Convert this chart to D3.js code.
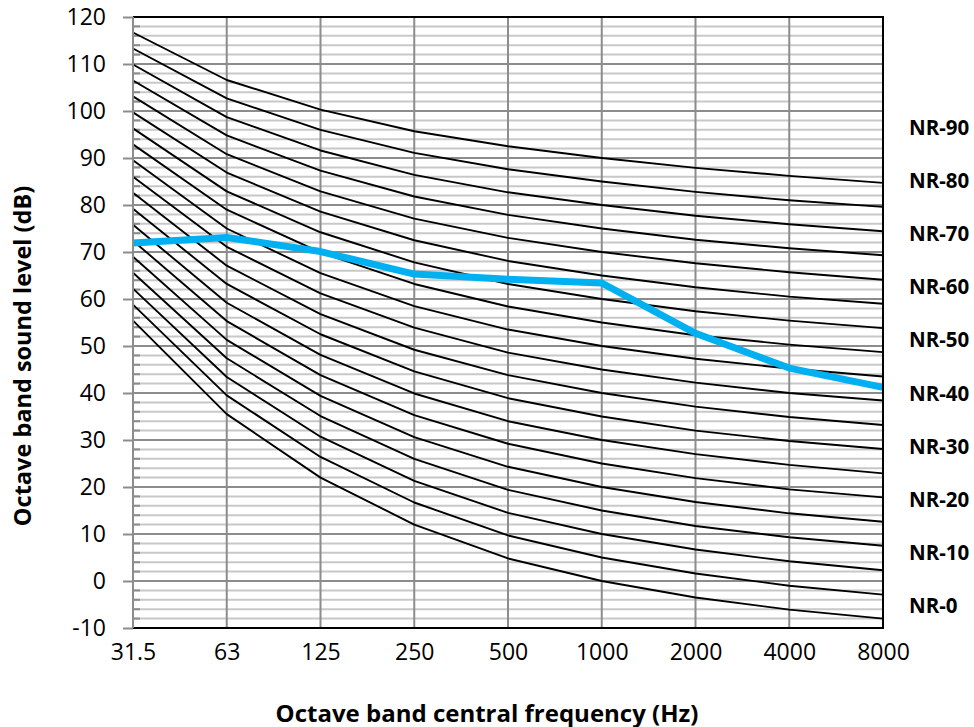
<!DOCTYPE html>
<html>
<head>
<meta charset="utf-8">
<script src="https://cdn.jsdelivr.net/npm/d3@7"></script>
<style>
  html, body { margin: 0; padding: 0; background: #fff; }
  svg { display: block; }
</style>
</head>
<body>
<svg id="chart" width="974" height="727"></svg>
<script>
// ---- Data ----
const frequencies = ["31.5", "63", "125", "250", "500", "1000", "2000", "4000", "8000"];
const yTickValues = [-10, 0, 10, 20, 30, 40, 50, 60, 70, 80, 90, 100, 110, 120];

// NR curves (dB per octave band), NR-0 ... NR-90 in steps of 5
const nr0  = [55.4, 35.5, 22.0, 12.0,  4.8,  0, -3.5, -6.1, -8.0];
const nr5  = [58.8, 39.5, 26.4, 16.7,  9.7,  5,  1.6, -1.0, -2.9];
const nr10 = [62.2, 43.4, 30.7, 21.3, 14.5, 10,  6.7,  4.2,  2.3];
const nr15 = [65.6, 47.4, 35.1, 26.0, 19.4, 15, 11.7,  9.3,  7.5];
const nr20 = [69.0, 51.3, 39.4, 30.6, 24.3, 20, 16.8, 14.4, 12.6];
const nr25 = [72.4, 55.3, 43.8, 35.3, 29.2, 25, 21.9, 19.5, 17.8];
const nr30 = [75.8, 59.2, 48.1, 39.9, 34.0, 30, 27.0, 24.7, 22.9];
const nr35 = [79.2, 63.2, 52.5, 44.6, 38.9, 35, 32.0, 29.8, 28.1];
const nr40 = [82.6, 67.1, 56.8, 49.2, 43.8, 40, 37.1, 34.9, 33.2];
const nr45 = [86.0, 71.1, 61.2, 53.9, 48.6, 45, 42.2, 40.0, 38.4];
const nr50 = [89.5, 75.0, 65.5, 58.5, 53.5, 50, 47.3, 45.2, 43.5];
const nr55 = [92.9, 79.0, 69.9, 63.2, 58.4, 55, 52.3, 50.3, 48.7];
const nr60 = [96.3, 82.9, 74.2, 67.8, 63.2, 60, 57.4, 55.4, 53.8];
const nr65 = [99.7, 86.9, 78.6, 72.5, 68.1, 65, 62.5, 60.5, 59.0];
const nr70 = [103.1, 90.8, 82.9, 77.1, 73.0, 70, 67.6, 65.7, 64.1];
const nr75 = [106.5, 94.8, 87.3, 81.8, 77.9, 75, 72.6, 70.8, 69.3];
const nr80 = [109.9, 98.7, 91.6, 86.4, 82.7, 80, 77.7, 75.9, 74.4];
const nr85 = [113.3, 102.7, 96.0, 91.1, 87.6, 85, 82.8, 81.0, 79.6];
const nr90 = [116.7, 106.6, 100.3, 95.7, 92.5, 90, 87.9, 86.2, 84.7];
const nrCurves = [nr0, nr5, nr10, nr15, nr20, nr25, nr30, nr35, nr40, nr45,
                  nr50, nr55, nr60, nr65, nr70, nr75, nr80, nr85, nr90];

// Measured spectrum (blue line)
const measured = [71.9, 73.1, 70.1, 65.3, 64.2, 63.4, 52.7, 45.3, 41.2];

// Right-side labels and the level (dB) at which each sits
const nrLabels   = ["NR-0", "NR-10", "NR-20", "NR-30", "NR-40", "NR-50", "NR-60", "NR-70", "NR-80", "NR-90"];
const nrLabelDb  = [-5.1, 6.2, 17.5, 28.8, 40.1, 51.4, 62.7, 74.0, 85.3, 96.6];

const xTitle = "Octave band central frequency (Hz)";
const yTitle = "Octave band sound level (dB)";

// ---- Layout ----
const plotL = 133, plotR = 883, plotT = 17, plotB = 628;
const FONT = "'Open Sans', 'DejaVu Sans', sans-serif";

const svg = d3.select("#chart");
svg.append("rect").attr("width", 974).attr("height", 727).attr("fill", "#fff");

const x = d3.scalePoint().domain(frequencies).range([plotL, plotR]).padding(0);
const y = d3.scaleLinear().domain([-10, 120]).range([plotB, plotT]);

// Minor horizontal gridlines every 2 dB
const minorVals = d3.range(-10, 121, 2).filter(v => v % 10 !== 0);
svg.append("g").selectAll("line").data(minorVals).join("line")
  .attr("x1", plotL).attr("x2", plotR)
  .attr("y1", d => y(d)).attr("y2", d => y(d))
  .attr("stroke", "#c8c8c8").attr("stroke-width", 2);

// Minor tick marks (inside, darker)
svg.append("g").selectAll("line").data(minorVals).join("line")
  .attr("x1", plotL).attr("x2", plotL + 7)
  .attr("y1", d => y(d)).attr("y2", d => y(d))
  .attr("stroke", "#8c8c8c").attr("stroke-width", 2);

// Major horizontal gridlines
svg.append("g").selectAll("line").data(yTickValues).join("line")
  .attr("x1", plotL).attr("x2", plotR)
  .attr("y1", d => y(d)).attr("y2", d => y(d))
  .attr("stroke", "#8c8c8c").attr("stroke-width", 2);

// Vertical gridlines
svg.append("g").selectAll("line").data(frequencies).join("line")
  .attr("x1", d => x(d)).attr("x2", d => x(d))
  .attr("y1", plotT).attr("y2", plotB)
  .attr("stroke", "#8c8c8c").attr("stroke-width", 2);

// NR curves
const line = d3.line().x((d, i) => x(frequencies[i])).y(d => y(d));
svg.append("g").selectAll("path").data(nrCurves).join("path")
  .attr("d", line)
  .attr("fill", "none").attr("stroke", "#000").attr("stroke-width", 1.9)
  .attr("stroke-linejoin", "round");

// Measured line
svg.append("path").datum(measured)
  .attr("d", line)
  .attr("fill", "none").attr("stroke", "#00B0F0").attr("stroke-width", 7)
  .attr("stroke-linejoin", "round");

// Plot border (top, right, bottom black)
svg.append("path")
  .attr("d", `M${plotL},${plotT}H${plotR}V${plotB}H${plotL}`)
  .attr("fill", "none").attr("stroke", "#000").attr("stroke-width", 2);

// Y axis
const yAxis = svg.append("g").attr("transform", `translate(${plotL},0)`)
  .call(d3.axisLeft(y).tickValues(yTickValues).tickSize(10).tickPadding(17)
        .tickFormat(d => String(d)));
yAxis.select(".domain").attr("stroke", "#8c8c8c").attr("stroke-width", 2)
  .attr("d", `M0,${plotT}V${plotB}`);
yAxis.selectAll(".tick line").attr("stroke", "#8c8c8c").attr("stroke-width", 2);
yAxis.selectAll(".tick text").attr("font-family", FONT).attr("font-size", 23).attr("fill", "#000");

// X axis
const xAxis = svg.append("g").attr("transform", `translate(0,${plotB})`)
  .call(d3.axisBottom(x).tickSize(0).tickPadding(16));
xAxis.select(".domain").remove();
xAxis.selectAll(".tick text").attr("font-family", FONT).attr("font-size", 23).attr("fill", "#000");

// Right NR labels
svg.append("g").selectAll("text").data(nrLabels).join("text")
  .attr("x", 909).attr("y", (d, i) => y(nrLabelDb[i]))
  .attr("dominant-baseline", "central")
  .attr("font-family", FONT).attr("font-weight", "bold").attr("font-size", 20.5)
  .attr("fill", "#000").text(d => d);

// Axis titles
svg.append("text").attr("x", 487).attr("y", 712)
  .attr("text-anchor", "middle").attr("dominant-baseline", "central")
  .attr("font-family", FONT).attr("font-weight", "bold").attr("font-size", 24)
  .text(xTitle);
svg.append("text").attr("transform", "translate(22,356) rotate(-90)")
  .attr("text-anchor", "middle").attr("dominant-baseline", "central")
  .attr("font-family", FONT).attr("font-weight", "bold").attr("font-size", 23.5)
  .text(yTitle);
</script>
</body>
</html>
